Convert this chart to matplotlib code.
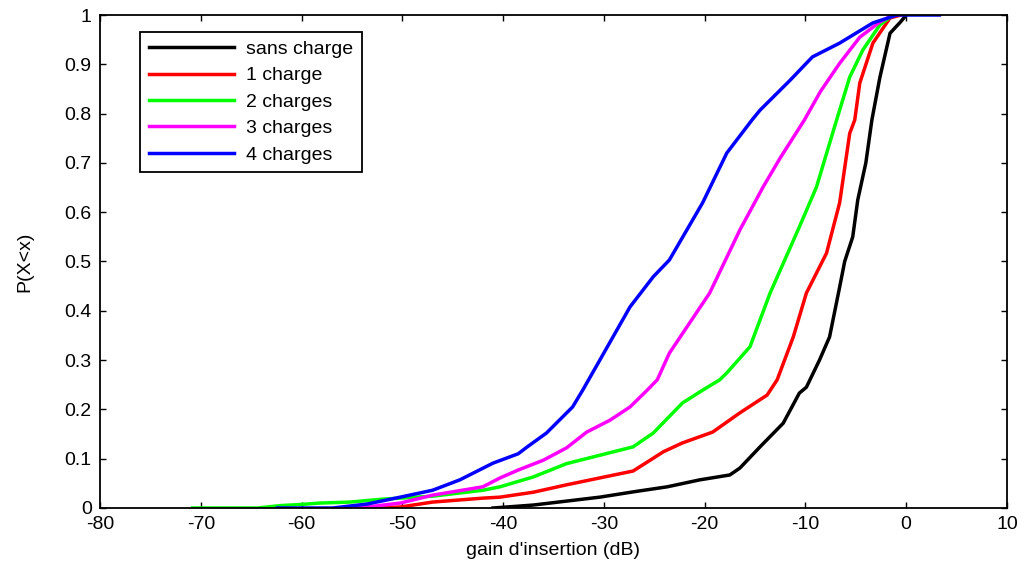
import matplotlib.pyplot as plt

plt.rcParams['font.family'] = ['Liberation Sans', 'DejaVu Sans']
plt.rcParams['axes.unicode_minus'] = False

# sans charge
x0 = [-41, -40.3, -37, -33.7, -30.4, -27, -23.7, -20.5, -17.5, -16.5, -14.5, -12.2, -10.6,
      -9.9, -8.6, -7.6, -6.6, -6.1, -5.3, -4.8, -4.0, -3.4, -2.6, -1.6, -0.6, -0.1, 0]
y0 = [0, 0.001, 0.006, 0.014, 0.022, 0.033, 0.043, 0.057, 0.067, 0.081, 0.124, 0.172, 0.233,
      0.245, 0.30, 0.347, 0.448, 0.50, 0.55, 0.625, 0.70, 0.787, 0.874, 0.963, 0.985, 0.997, 1.0]

# 1 charge
x1 = [-53, -50.2, -47, -42, -40.3, -37, -33.7, -30.4, -27.1, -25.4, -24.1, -22.2, -19.2,
      -16.5, -13.8, -12.8, -11.2, -9.9, -7.9, -6.6, -5.6, -5.1, -4.6, -3.3, -1.6, -0.5]
y1 = [0, 0.002, 0.012, 0.02, 0.022, 0.032, 0.047, 0.061, 0.075, 0.097, 0.114, 0.132, 0.154,
      0.193, 0.229, 0.26, 0.347, 0.436, 0.517, 0.619, 0.76, 0.787, 0.862, 0.943, 0.994, 1.0]

# 2 charges
x2 = [-70.8, -64.4, -62, -60.2, -58.2, -55.2, -51.9, -47, -42, -40.3, -37, -33.7, -30.4,
      -27.1, -25.1, -22.2, -20.2, -18.5, -17.8, -15.5, -13.5, -10.6, -8.9, -6.9, -5.6,
      -4.3, -2.6, -1.3]
y2 = [0, 0, 0.005, 0.007, 0.01, 0.012, 0.018, 0.024, 0.036, 0.043, 0.063, 0.09, 0.107,
      0.124, 0.152, 0.213, 0.239, 0.26, 0.274, 0.327, 0.436, 0.57, 0.651, 0.787, 0.874,
      0.929, 0.98, 1.0]

# 3 charges
x3 = [-56.5, -53.5, -50.2, -47, -42, -40.3, -38.5, -36, -33.7, -31.7, -29.4, -27.4, -25.7,
      -24.7, -23.5, -19.5, -16.5, -14.2, -12.5, -10.1, -8.5, -6.6, -4.6, -2.6, -1.3]
y3 = [0, 0.002, 0.01, 0.026, 0.043, 0.061, 0.077, 0.097, 0.122, 0.154, 0.178, 0.205, 0.239,
      0.26, 0.314, 0.436, 0.564, 0.651, 0.71, 0.787, 0.845, 0.902, 0.955, 0.986, 1.0]

# 4 charges
x4 = [-62.4, -56.9, -53.5, -50.2, -47, -44.3, -41, -38.5, -37.6, -35.7, -33.1, -32.1, -30.4,
      -27.4, -25.1, -23.5, -20.2, -17.8, -15.3, -14.5, -11.5, -9.3, -6.6, -3.3, -0.9, 3.3]
y4 = [0, 0, 0.008, 0.022, 0.036, 0.057, 0.091, 0.11, 0.124, 0.152, 0.205, 0.239, 0.30,
      0.408, 0.469, 0.503, 0.619, 0.72, 0.787, 0.807, 0.868, 0.915, 0.943, 0.984, 1.0, 1.0]

labels = ['sans charge', '1 charge', '2 charges', '3 charges', '4 charges']
colors = ['#000000', '#ff0000', '#00ff00', '#ff00ff', '#0000ff']

fig = plt.figure(figsize=(10.24, 5.64), dpi=100)
ax = fig.add_axes([0.0977, 0.0993, 0.8856, 0.8741])

for xs, ys, lab, c in zip([x0, x1, x2, x3, x4], [y0, y1, y2, y3, y4], labels, colors):
    ax.plot(xs, ys, color=c, lw=2.5, label=lab)

ax.set_xlim(-80, 10)
ax.set_ylim(0, 1)
ax.set_xticks(range(-80, 11, 10))
yt = [i / 10 for i in range(11)]
ax.set_yticks(yt)
ax.set_yticklabels(['0'] + ['0.%d' % i for i in range(1, 10)] + ['1'])
ax.tick_params(direction='in', top=True, right=True, labelsize=14, length=4, width=1, pad=6)
for s in ax.spines.values():
    s.set_linewidth(1.3)

ax.set_xlabel("gain d'insertion (dB)", fontsize=14)
ax.set_ylabel('P(X<x)', fontsize=14)
ax.xaxis.set_label_coords(0.5, -0.068)
ax.yaxis.set_label_coords(-0.074, 0.5)

leg = ax.legend(loc='upper left', bbox_to_anchor=(0.044, 0.966), borderaxespad=0,
                fontsize=14, handlelength=4.4, handletextpad=0.6, labelspacing=0.45,
                fancybox=False, framealpha=1, edgecolor='black', borderpad=0.45)
leg.get_frame().set_linewidth(1.3)

fig.savefig('out.png', dpi=100)
